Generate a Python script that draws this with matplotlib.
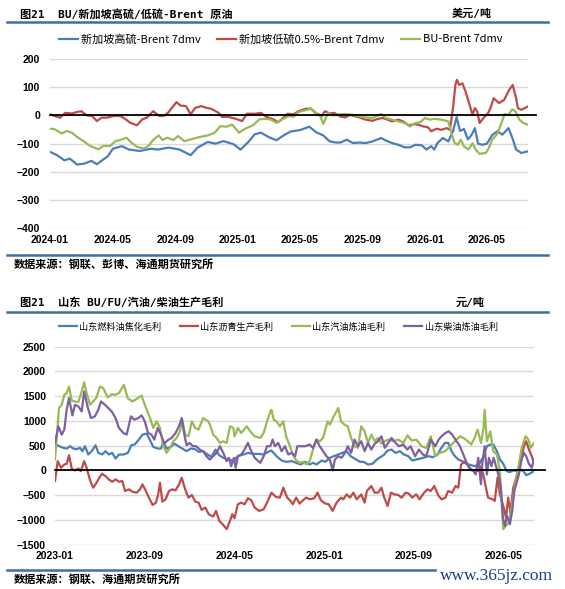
import numpy as np
import pandas as pd
import matplotlib
matplotlib.use('Agg')
import matplotlib.pyplot as plt
import matplotlib.dates as mdates
from matplotlib.lines import Line2D

plt.rcParams['font.family'] = ['Liberation Sans', 'Noto Sans CJK SC', 'DejaVu Sans']

W, H = 565, 589
CJK = ['Noto Sans CJK SC', 'DejaVu Sans']
TITLE = ['DejaVu Sans Mono', 'Noto Sans CJK SC']

### 图1: 月份偏移 (从 2024-01 起)
hsfo_t = [0, 0.46, 0.92, 1.27, 1.73, 2.19, 2.65, 3.0, 3.34, 3.69,
          4.03, 4.6, 5.07, 5.76, 6.45, 6.9, 7.6, 8.3, 9.0, 9.45,
          10.1, 10.6, 11.1, 11.75, 12.2, 12.7, 13.1, 13.5, 14.05, 14.5,
          14.95, 15.4, 16.0, 16.6, 17.05, 17.5, 17.9, 18.3, 18.6, 19.0,
          19.4, 19.8, 20.2, 20.65, 21.2, 21.5, 21.9, 22.3, 22.7, 23.05,
          23.4, 23.8, 24.1, 24.4, 24.6, 24.8, 25.15, 25.5, 25.8, 26.03,
          26.25, 26.5, 26.75, 27.0, 27.2, 27.4, 27.7, 27.97, 28.3, 28.63,
          28.96, 29.35, 29.6, 29.84, 30.17, 30.6]
hsfo_v = [-129, -141, -159, -153, -174, -171, -161, -173, -159, -145,
          -118, -109, -121, -126, -118, -121, -114, -121, -141, -114,
          -94, -100, -91, -102, -121, -94, -67, -61, -78, -88,
          -71, -57, -52, -40, -60, -71, -92, -96, -96, -86,
          -98, -96, -98, -92, -80, -89, -98, -104, -113, -113,
          -104, -106, -121, -109, -121, -98, -80, -92, -56, -6,
          -55, -48, -85, -68, -45, -100, -104, -100, -70, -56,
          -68, -45, -80, -121, -133, -127]

lsfo_t = [0, 0.3, 0.64, 0.96, 1.4, 1.7, 2.0, 2.36, 2.7, 3.0,
          3.3, 3.64, 4.07, 4.5, 4.8, 5.14, 5.57, 5.9, 6.2, 6.6,
          7.0, 7.3, 7.6, 7.8, 8.1, 8.35, 8.7, 9.0, 9.3, 9.7,
          10.0, 10.3, 10.8, 11.0, 11.4, 11.9, 12.3, 12.6, 13.1, 13.5,
          13.85, 14.3, 14.6, 14.95, 15.2, 15.6, 15.9, 16.4, 16.7, 17.0,
          17.4, 17.6, 17.9, 18.2, 18.6, 18.9, 19.2, 19.6, 19.9, 20.2,
          20.65, 21.0, 21.3, 21.6, 21.9, 22.3, 22.6, 22.95, 23.3, 23.6,
          23.9, 24.2, 24.4, 24.75, 25.05, 25.4, 25.6, 25.8, 25.95, 26.05,
          26.2, 26.4, 26.6, 26.8, 27.05, 27.2, 27.35, 27.5, 27.75, 28.04,
          28.2, 28.4, 28.74, 29.07, 29.4, 29.62, 29.84, 29.95, 30.17, 30.39,
          30.6]
lsfo_v = [4, -2, -8, 9, 7, 12, 15, 0, -2, -20,
          -8, -8, -2, -2, -12, -26, -35, -14, -8, 15,
          -2, -2, 12, 27, 47, 35, 33, 4, 27, 33,
          27, 24, 9, -5, -5, -12, -20, 6, 6, 9,
          -5, -14, -24, -8, 6, 4, 15, 24, 24, 9,
          -2, 15, 7, 9, -4, -7, 2, -4, -9, -15,
          -19, -12, -9, -15, -21, -15, -21, -35, -31, -33,
          -39, -42, -56, -47, -51, -45, -51, 26, 108, 126,
          108, 114, 85, 49, 2, 26, 14, -27, -9, 8,
          26, 61, 44, 55, 91, 108, 61, 26, 20, 26,
          32]

bu_t = [0, 0.3, 0.75, 1.07, 1.4, 1.7, 2.14, 2.57, 3.1, 3.4,
        3.85, 4.2, 4.6, 4.9, 5.2, 5.57, 6.0, 6.3, 6.6, 6.96,
        7.2, 7.5, 7.9, 8.2, 8.6, 9.2, 9.7, 10.1, 10.55, 10.9,
        11.3, 11.65, 12.1, 12.5, 13.0, 13.4, 13.7, 14.1, 14.5, 14.95,
        15.3, 15.6, 15.9, 16.4, 16.7, 17.0, 17.3, 17.5, 17.8, 18.1,
        18.5, 18.9, 19.4, 19.8, 20.2, 20.65, 21.2, 21.5, 21.9, 22.3,
        22.7, 23.05, 23.4, 23.7, 24.0, 24.3, 24.6, 25.05, 25.5, 25.7,
        25.9, 26.1, 26.3, 26.5, 26.8, 27.05, 27.25, 27.5, 27.9, 28.1,
        28.3, 28.6, 28.85, 29.1, 29.35, 29.6, 29.8, 30.05, 30.3, 30.6]
bu_v = [-47, -49, -64, -55, -61, -75, -91, -108, -120, -108,
        -108, -91, -85, -79, -96, -111, -118, -108, -87, -71,
        -87, -79, -87, -73, -91, -82, -75, -71, -61, -38,
        -40, -32, -61, -47, -35, -14, -12, -14, -26, -12,
        -2, -5, 12, 19, 24, 9, -2, -30, 9, 0,
        4, 5, 2, -4, -7, -9, 5, -9, -15, -21,
        -27, -39, -27, -24, -9, -15, -12, -15, -21, -62,
        -98, -104, -86, -110, -121, -98, -121, -136, -133, -115,
        -86, -68, -35, 5, 2, 22, 14, -15, -27, -33]

### 图2: 月份偏移 (从 2023-01 起)
fu_t = [0, 0.3, 0.74, 1.04, 1.34, 1.63, 1.93, 2.23, 2.44, 2.67,
        2.97, 3.27, 3.62, 3.86, 4.2, 4.5, 4.8, 5.1, 5.4, 5.7,
        6.1, 6.5, 6.8, 7.1, 7.43, 7.8, 8.17, 8.47, 8.76, 9.15,
        9.45, 9.66, 9.95, 10.34, 10.64, 11.0, 11.35, 11.73, 12.1, 12.5,
        12.8, 13.2, 13.6, 13.96, 14.3, 14.64, 15.0, 15.4, 15.9, 16.3,
        16.8, 17.2, 17.7, 18.1, 18.6, 19.0, 19.3, 19.75, 20.2, 20.6,
        21.1, 21.5, 21.9, 22.3, 22.7, 23.0, 23.3, 23.8, 24.1, 24.5,
        24.85, 25.25, 25.6, 26.0, 26.35, 26.7, 27.2, 27.5, 27.9, 28.3,
        28.7, 29.0, 29.3, 29.65, 30.0, 30.36, 30.75, 31.1, 31.5, 31.85,
        32.2, 32.6, 33.0, 33.3, 33.7, 34.1, 34.4, 34.75, 35.05, 35.35,
        35.65, 35.95, 36.3, 36.7, 37.1, 37.4, 37.8, 38.2, 38.5, 38.8,
        39.07, 39.4, 39.66, 39.96, 40.26, 40.55, 40.85, 41.15, 41.45, 41.75,
        42.0, 42.3, 42.7]
fu_v = [543, 496, 456, 442, 489, 442, 429, 456, 389, 489,
        322, 389, 509, 355, 322, 389, 322, 355, 241, 322,
        322, 355, 509, 523, 610, 724, 744, 610, 476, 442,
        442, 576, 442, 476, 543, 489, 442, 389, 442, 429,
        375, 389, 322, 275, 420, 308, 255, 221, 201, 288,
        322, 355, 335, 335, 322, 375, 402, 288, 201, 174,
        188, 154, 121, 174, 121, 154, 121, 201, 174, 255,
        288, 322, 355, 389, 288, 241, 174, 174, 121, 134,
        221, 268, 310, 402, 422, 355, 389, 322, 288, 201,
        221, 241, 268, 288, 268, 322, 442, 556, 556, 389,
        288, 221, 188, 134, 107, 87, 121, 288, 489, 523,
        523, 389, 221, 134, -13, -33, 0, -13, 20, -13,
        -94, -67, -13]

asph_t = [0, 0.24, 0.53, 0.83, 1.04, 1.25, 1.49, 1.78, 2.08, 2.3,
          2.6, 2.82, 3.12, 3.4, 3.7, 3.95, 4.2, 4.5, 4.8, 5.1,
          5.4, 5.7, 6.0, 6.24, 6.6, 6.9, 7.28, 7.58, 7.8, 8.1,
          8.4, 8.7, 9.0, 9.2, 9.36, 9.57, 9.86, 10.16, 10.46, 10.75,
          11.05, 11.3, 11.6, 11.9, 12.2, 12.5, 12.8, 13.07, 13.4, 13.7,
          14.1, 14.35, 14.64, 14.94, 15.3, 15.6, 15.8, 16.0, 16.3, 16.6,
          16.9, 17.2, 17.5, 17.8, 18.2, 18.6, 18.9, 19.3, 19.7, 20.05,
          20.35, 20.7, 21.0, 21.2, 21.5, 21.8, 22.1, 22.4, 22.7, 23.1,
          23.4, 23.7, 24.1, 24.4, 24.75, 25.1, 25.5, 25.7, 26.0, 26.3,
          26.6, 26.9, 27.3, 27.6, 27.8, 28.2, 28.5, 28.8, 29.1, 29.35,
          29.65, 29.95, 30.25, 30.6, 30.9, 31.25, 31.55, 31.85, 32.2, 32.5,
          32.9, 33.2, 33.5, 33.8, 34.2, 34.46, 34.8, 35.05, 35.4, 35.7,
          35.95, 36.2, 36.5, 36.8, 37.1, 37.4, 37.73, 38.0, 38.3, 38.6,
          39.0, 39.2, 39.45, 39.66, 39.96, 40.2, 40.4, 40.6, 40.85, 41.15,
          41.35, 41.6, 41.8, 42.0, 42.25, 42.5, 42.7]
asph_v = [-214, 188, 54, 121, 134, 308, 40, 0, 40, -13,
          188, 54, -194, -348, -248, -147, -67, -114, -181, -228,
          -181, -228, -214, -415, -382, -429, -449, -382, -281, -415,
          -563, -697, -650, -482, -248, -630, -583, -415, -382, -402,
          -281, -147, -382, -549, -496, -630, -650, -797, -750, -884,
          -931, -817, -1018, -1085, -1186, -1018, -884, -965, -683, -650,
          -683, -563, -603, -750, -817, -784, -650, -449, -536, -549,
          -348, -549, -616, -683, -549, -670, -603, -549, -583, -563,
          -449, -603, -670, -683, -817, -650, -549, -583, -482, -549,
          -449, -583, -482, -650, -415, -315, -449, -449, -348, -549,
          -717, -449, -482, -496, -549, -449, -469, -549, -482, -583,
          -449, -382, -415, -315, -516, -583, -549, -415, -449, -315,
          -348, 121, 174, 107, 20, -13, -13, 87, -214, -549,
          -583, -616, -147, -482, -717, -951, -549, -851, -348, -114,
          54, 255, 489, 590, 422, 288, 154]

gas_t = [0, 0.36, 0.6, 0.83, 1.04, 1.25, 1.49, 1.78, 2.08, 2.38,
         2.6, 2.82, 3.12, 3.4, 3.7, 4.0, 4.3, 4.7, 5.05, 5.35,
         5.7, 6.15, 6.48, 6.9, 7.28, 7.72, 8.0, 8.47, 8.76, 9.06,
         9.36, 9.66, 9.95, 10.25, 10.55, 10.84, 11.14, 11.35, 11.6, 11.9,
         12.2, 12.5, 12.8, 13.2, 13.67, 13.85, 14.1, 14.4, 14.7, 15.0,
         15.3, 15.6, 15.9, 16.0, 16.3, 16.6, 17.1, 17.4, 17.8, 18.3,
         18.6, 18.9, 19.2, 19.3, 19.5, 19.75, 20.05, 20.35, 20.6, 20.95,
         21.2, 21.5, 21.8, 22.1, 22.4, 22.7, 23.0, 23.3, 23.6, 23.9,
         24.3, 24.5, 24.85, 25.25, 25.5, 25.8, 26.1, 26.4, 26.7, 27.0,
         27.3, 27.6, 27.9, 28.2, 28.5, 28.8, 29.1, 29.4, 29.7, 30.15,
         30.6, 31.05, 31.43, 31.8, 32.2, 32.7, 33.1, 33.5, 33.9, 34.3,
         34.8, 35.2, 35.65, 36.1, 36.4, 36.8, 37.1, 37.4, 37.67, 37.97,
         38.2, 38.3, 38.5, 38.8, 39.07, 39.4, 39.66, 39.8, 39.96, 40.2,
         40.46, 40.7, 41.0, 41.3, 41.6, 41.95, 42.2, 42.4, 42.7]
gas_v = [221, 1260, 1327, 1528, 1561, 1695, 1407, 1394, 1380, 1595,
         1782, 1561, 1327, 1394, 1474, 1695, 1662, 1474, 1541, 1528,
         1561, 1729, 1461, 1394, 1447, 1514, 1327, 1059, 858, 992,
         858, 489, 355, 456, 590, 657, 791, 1025, 724, 690,
         992, 858, 824, 1059, 992, 900, 724, 657, 556, 590,
         556, 891, 858, 690, 858, 757, 891, 791, 690, 657,
         757, 992, 1193, 1226, 1025, 992, 891, 992, 690, 489,
         322, 201, 154, 174, 121, 188, 422, 623, 590, 657,
         992, 925, 1092, 1260, 992, 925, 891, 657, 489, 456,
         891, 791, 556, 724, 590, 657, 540, 590, 623, 590,
         623, 556, 710, 603, 623, 489, 456, 690, 288, 355,
         389, 489, 590, 690, 657, 590, 523, 657, 824, 556,
         858, 1226, 590, 791, 389, 322, -13, -616, -1186, -1119,
         -1052, -750, -281, 54, 456, 690, 623, 456, 556]

diesel_t = [0, 0.3, 0.6, 0.83, 1.04, 1.25, 1.55, 1.78, 2.08, 2.38,
            2.6, 2.9, 3.2, 3.56, 3.86, 4.1, 4.46, 4.75, 5.05, 5.4,
            5.7, 6.1, 6.39, 6.77, 7.07, 7.43, 7.72, 8.0, 8.3, 8.6,
            8.85, 9.15, 9.45, 9.74, 10.04, 10.4, 10.75, 11.05, 11.3, 11.53,
            11.73, 12.0, 12.3, 12.6, 12.9, 13.2, 13.5, 13.8, 14.1, 14.4,
            14.7, 15.0, 15.3, 15.5, 15.7, 15.95, 16.1, 16.3, 16.6, 16.9,
            17.2, 17.5, 17.8, 18.3, 18.6, 18.9, 19.2, 19.4, 19.6, 19.9,
            20.2, 20.5, 20.8, 21.1, 21.4, 21.6, 21.9, 22.3, 22.7, 23.0,
            23.3, 23.6, 23.9, 24.2, 24.5, 24.75, 24.95, 25.25, 25.55, 25.85,
            26.1, 26.4, 26.7, 27.0, 27.3, 27.6, 27.9, 28.2, 28.5, 28.8,
            29.1, 29.4, 29.7, 30.0, 30.36, 30.66, 31.05, 31.4, 31.7, 32.1,
            32.44, 32.8, 33.1, 33.5, 33.9, 34.2, 34.46, 34.8, 35.1, 35.4,
            35.7, 36.1, 36.4, 36.7, 37.0, 37.3, 37.5, 37.73, 37.97, 38.1,
            38.3, 38.5, 38.68, 38.9, 39.1, 39.4, 39.6, 39.75, 39.93, 40.1,
            40.3, 40.55, 40.76, 40.94, 41.15, 41.35, 41.6, 41.8, 42.0, 42.25,
            42.5, 42.7]
diesel_v = [556, 891, 724, 824, 1226, 1460, 1112, 1327, 1293, 1193,
            1595, 1293, 1059, 1092, 1226, 1394, 1327, 1260, 1193, 1059,
            858, 757, 724, 1092, 1025, 1059, 1112, 992, 757, 724,
            623, 858, 724, 543, 610, 657, 757, 891, 1059, 724,
            509, 556, 489, 489, 422, 389, 288, 221, 288, 355,
            489, 355, 188, 255, 87, 255, 54, 288, 322, 422,
            556, 389, 255, 154, 288, 489, 489, 623, 489, 556,
            389, 489, 322, 355, 288, 489, 489, 489, 523, 456,
            623, 489, 389, 288, 221, 0, 221, 288, 255, 355,
            489, 355, 623, 489, 590, 389, 556, 422, 540, 590,
            690, 456, 556, 657, 556, 489, 523, 422, 489, 288,
            422, 322, 288, 623, 489, 623, 690, 757, 791, 724,
            623, 489, 322, 154, 20, -13, -80, 255, -281, 154,
            489, -80, 255, 87, 255, 20, -147, -348, -951, -1119,
            -918, -1085, -817, -415, -248, -80, 221, 355, 288, 134,
            54, 221]

top_ticks = pd.date_range('2024-01-01', periods=8, freq='4MS')
bot_ticks = pd.date_range('2023-01-01', periods=6, freq='8MS')

BLUE, RED, GREEN, PURPLE = '#4A7EBB', '#BE4B48', '#98B954', '#7D60A0'
RULE = '#3F6EA6'


def to_dates(start, t):
    return pd.Timestamp(start) + pd.to_timedelta(np.asarray(t) * 30.4375, unit='D')


def fx(x):
    return x / W


def fy(y):
    return 1 - y / H


fig = plt.figure(figsize=(W / 100, H / 100), dpi=100)


def axes_px(l, t, r, b):
    return fig.add_axes([l / W, 1 - b / H, (r - l) / W, (b - t) / H])


def style(ax, xlim, ylim, xticks, yticks, ypad, ext):
    ax.set_xlim(xlim)
    ax.set_ylim(ylim)
    ax.set_xticks(xticks)
    ax.set_yticks(yticks)
    ax.xaxis.set_major_formatter(mdates.DateFormatter('%Y-%m'))
    for s in ax.spines.values():
        s.set_visible(False)
    ax.grid(axis='y', color='#D9D9D9', lw=1)
    ax.set_axisbelow(True)
    ax.tick_params(axis='both', length=0, labelsize=7.5)
    ax.tick_params(axis='y', pad=ypad)
    ax.tick_params(axis='x', pad=4.5)
    for lab in ax.get_xticklabels() + ax.get_yticklabels():
        lab.set_fontweight('bold')
    ax.plot([0, ext], [0, 0], transform=ax.get_yaxis_transform(),
            color='black', lw=1.3, clip_on=False, zorder=4)


def rule(y, x0=7, x1=548):
    fig.add_artist(Line2D([fx(x0), fx(x1)], [fy(y), fy(y)], color=RULE, lw=1.8))


# ---------- 上图 ----------
fig.text(fx(20), fy(14), '图21  BU/新加坡高硫/低硫-Brent 原油', family=TITLE,
         weight='bold', size=8, va='center')
fig.text(fx(452), fy(14), '美元/吨', family=TITLE, weight='bold', size=8, va='center')
rule(22)

ax1 = axes_px(50, 59, 528, 228.3)
ax1.plot(to_dates('2024-01-01', hsfo_t), hsfo_v, color=BLUE, lw=1.6, label='新加坡高硫-Brent 7dmv')
ax1.plot(to_dates('2024-01-01', lsfo_t), lsfo_v, color=RED, lw=1.6, label='新加坡低硫0.5%-Brent 7dmv')
ax1.plot(to_dates('2024-01-01', bu_t), bu_v, color=GREEN, lw=1.6, label='BU-Brent 7dmv')
style(ax1, (pd.Timestamp('2024-01-01'), to_dates('2024-01-01', [30.6])[0]),
      (-400, 200), top_ticks, range(-400, 201, 100), 7.2, 1.017)
h1, l1 = ax1.get_legend_handles_labels()
fig.legend(h1, l1, loc='center left', bbox_to_anchor=(fx(59), fy(39)), ncol=3,
           frameon=False, borderpad=0, borderaxespad=0, handlelength=1.7,
           handletextpad=0.27, columnspacing=1.5, prop={'family': CJK, 'size': 8})

rule(255)
fig.text(fx(14), fy(264), '数据来源：钢联、彭博、海通期货研究所', family=CJK, size=8,
         weight='bold', va='center')

# ---------- 下图 ----------
fig.text(fx(20), fy(303), '图21  山东 BU/FU/汽油/柴油生产毛利', family=TITLE,
         weight='bold', size=8, va='center')
fig.text(fx(456), fy(303), '元/吨', family=TITLE, weight='bold', size=8, va='center')
rule(312)

ax2 = axes_px(55, 346.7, 534, 544.7)
ax2.plot(to_dates('2023-01-01', fu_t), fu_v, color=BLUE, lw=1.6, label='山东燃料油焦化毛利')
ax2.plot(to_dates('2023-01-01', asph_t), asph_v, color=RED, lw=1.6, label='山东沥青生产毛利')
ax2.plot(to_dates('2023-01-01', gas_t), gas_v, color=GREEN, lw=1.6, label='山东汽油炼油毛利')
ax2.plot(to_dates('2023-01-01', diesel_t), diesel_v, color=PURPLE, lw=1.6, label='山东柴油炼油毛利')
style(ax2, (pd.Timestamp('2023-01-01'), to_dates('2023-01-01', [42.7])[0]),
      (-1500, 2500), bot_ticks, range(-1500, 2501, 500), 6.5, 1.023)
h2, l2 = ax2.get_legend_handles_labels()
fig.legend(h2, l2, loc='center left', bbox_to_anchor=(fx(59), fy(327)), ncol=4,
           frameon=False, borderpad=0, borderaxespad=0, handlelength=1.94,
           handletextpad=0.27, columnspacing=2.05, prop={'family': CJK, 'size': 6.6})

rule(570, 7, 435)
fig.text(fx(14), fy(579), '数据来源：钢联、海通期货研究所', family=CJK, size=8,
         weight='bold', va='center')
fig.text(fx(440), fy(576), 'www.365jz.com', family=['Liberation Serif', 'DejaVu Serif'],
         size=12.5, color='#1F3D8C', va='center')

fig.savefig('out.png', dpi=100)
